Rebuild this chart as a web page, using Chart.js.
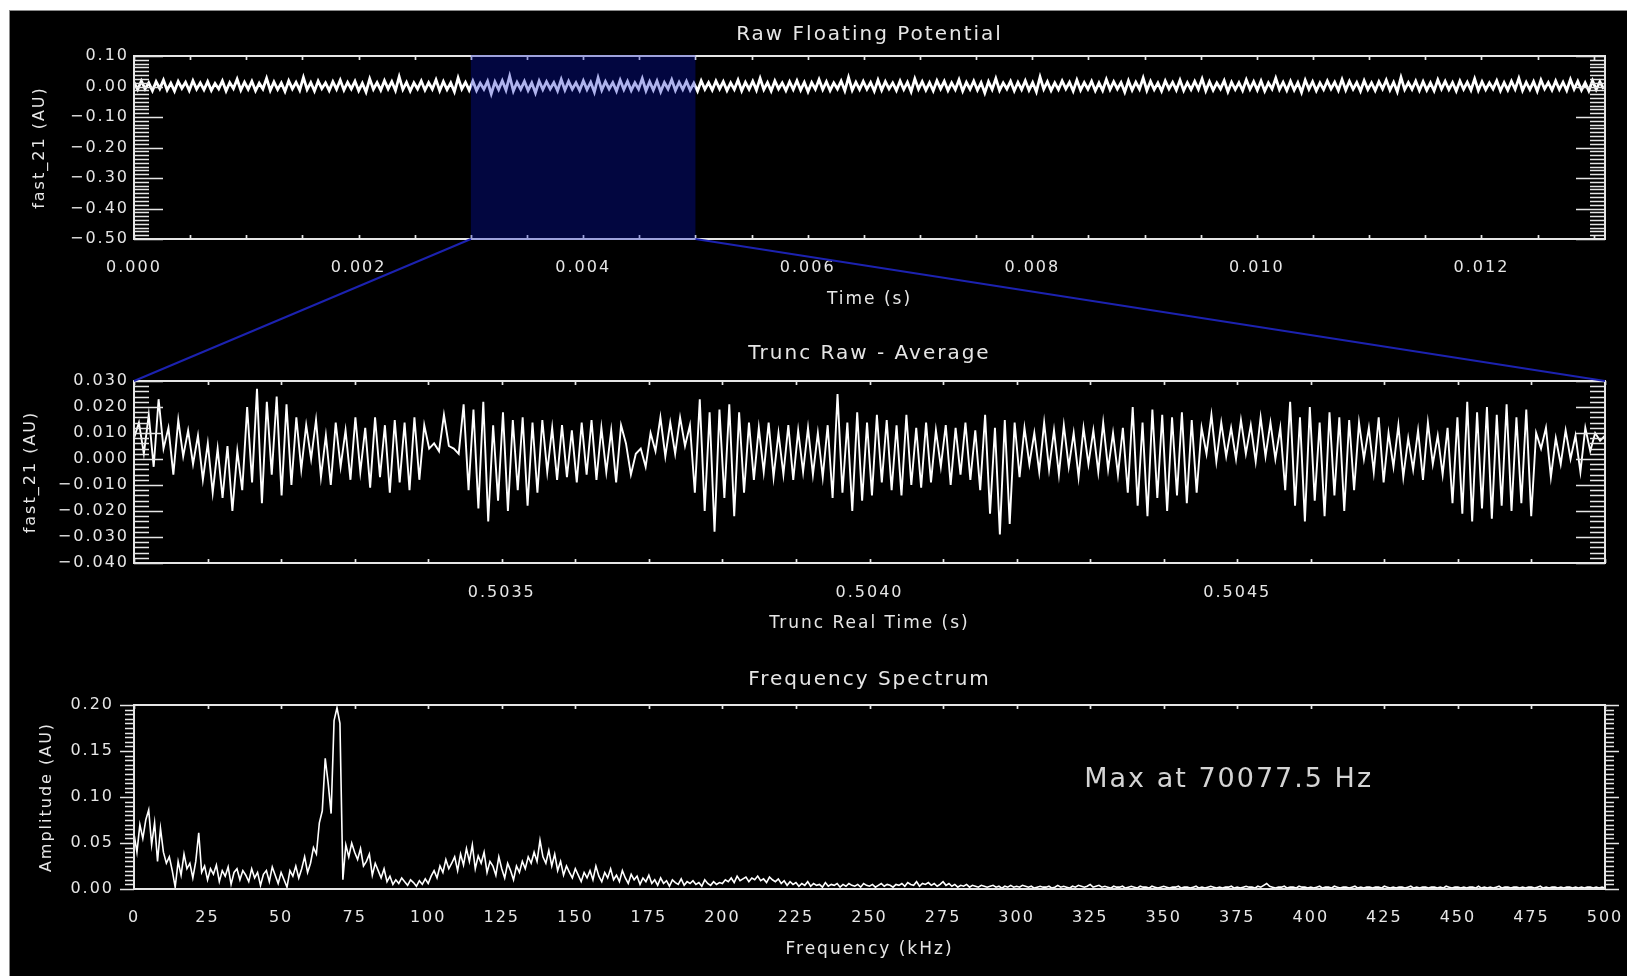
<!DOCTYPE html>
<html>
<head>
<meta charset="utf-8">
<title>Raw Floating Potential</title>
<script src="https://cdn.jsdelivr.net/npm/chart.js@4.4.1/dist/chart.umd.min.js"></script>
<style>
  body { margin: 0; background: #fff; }
  #wrap { position: relative; width: 1627px; height: 976px; overflow: hidden; }
  #bg { position: absolute; left: 9px; top: 10px; right: 0; bottom: 0; background: #000; border-top: 1px solid #8a8a8a; border-left: 1px solid #8a8a8a; }
  canvas { position: absolute; left: 0; top: 0; }
</style>
</head>
<body>
<div id="wrap">
  <div id="bg"></div>
  <canvas id="rawChart" width="1627" height="976"></canvas>
  <canvas id="truncChart" width="1627" height="976"></canvas>
  <canvas id="specChart" width="1627" height="976"></canvas>
</div>
<script>
// ===== Data =====

// fast_21 raw floating potential, 1e-3 AU, one sample every rawDt seconds
const rawDt = 3.28e-5;
const rawMilli = [
  14, -10, 18, -8, 12, -14, 16, -7, 21, -12, 11, -15, 17, -6, 14, -13, 19, -9, 12, -11,
  16, -13, 10, -8, 18, -15, 13, -7, 24, -12, 14, -9, 17, -14, 11, -8, 27, -13, 15, -10,
  12, -16, 19, -8, 14, -12, 30, -10, 13, -15, 18, -7, 12, -13, 16, -9, 21, -12, 14, -8,
  17, -14, 11, -18, 25, -9, 13, -12, 19, -8, 16, -13, 32, -10, 14, -15, 12, -8, 18, -12,
  13, -9, 22, -14, 16, -10, 12, -17, 28, -8, 14, -12, 18, -13, 11, -9, 17, -24, 15, -10,
  19, -12, 34, -15, 14, -9, 17, -13, 12, -21, 18, -10, 16, -8, 13, -14, 23, -12, 17, -9,
  12, -13, 19, -10, 14, -18, 29, -12, 16, -8, 13, -15, 21, -10, 17, -13, 12, -9, 26, -14,
  16, -12, 18, -17, 13, -8, 22, -13, 14, -10, 17, -12, 11, -15, 19, -9, 13, -12, 18, -8,
  16, -13, 12, -10, 21, -14, 14, -9, 17, -12, 27, -10, 13, -15, 18, -8, 12, -13, 16, -10,
  19, -12, 14, -17, 13, -9, 23, -10, 16, -13, 12, -8, 18, -14, 30, -12, 14, -10, 17, -9,
  13, -15, 21, -12, 16, -8, 12, -13, 18, -10, 14, -17, 25, -9, 16, -12, 13, -14, 19, -8,
  17, -13, 12, -10, 22, -15, 14, -9, 18, -12, 13, -21, 16, -10, 26, -13, 12, -8, 17, -14,
  14, -10, 19, -12, 13, -17, 31, -9, 16, -13, 12, -10, 18, -8, 14, -15, 21, -12, 13, -9,
  17, -14, 12, -13, 23, -10, 16, -8, 13, -18, 19, -12, 14, -9, 28, -13, 17, -10, 12, -15,
  18, -8, 14, -12, 21, -13, 13, -10, 17, -9, 25, -14, 16, -12, 12, -8, 19, -17, 14, -10,
  13, -13, 22, -9, 16, -12, 18, -15, 12, -8, 27, -10, 14, -13, 17, -12, 13, -19, 21, -9,
  16, -14, 12, -10, 18, -8, 14, -13, 23, -12, 17, -9, 13, -15, 19, -10, 12, -13, 16, -8,
  21, -12, 14, -17, 30, -10, 13, -9, 18, -13, 16, -12, 12, -14, 22, -8, 17, -10, 13, -15,
  18, -9, 14, -12, 25, -13, 16, -10, 12, -8, 19, -14, 13, -12, 17, -9, 27, -13, 14, -10,
  16, -15, 21, -8, 13, -12, 18, -10, 14, -13, 23, -9, 17, -12, 12, -14, 19, -10, 16, -8
];
const rawXMax = 0.0131;
const rawXTicks = [0, 0.002, 0.004, 0.006, 0.008, 0.010, 0.012];
const rawYTicks = [0.1, 0, -0.1, -0.2, -0.3, -0.4, -0.5];
const zoomWindow = [0.003, 0.005];

// truncated window minus its average, 1e-3 AU
const truncT0 = 0.503;
const truncT1 = 0.505;
const truncMilli = [
  8, 14, 2, 17, -3, 23, 4, 12, -6, 15,
  1, 11, -2, 9, -8, 6, -13, 4, -15, 5,
  -20, 3, -12, 20, -9, 27, -17, 22, -6, 24,
  -14, 21, -10, 16, -4, 13, 0, 15, -7, 9,
  -10, 14, -3, 11, -8, 16, -5, 12, -11, 16,
  -7, 13, -13, 15, -9, 14, -12, 16, -8, 13,
  4, 6, 3, 17, 5, 4, 2, 21, -12, 19,
  -19, 22, -24, 13, -16, 18, -20, 15, -12, 16,
  -18, 14, -13, 15, -5, 12, -8, 13, -7, 11,
  -9, 14, -6, 15, -8, 12, -5, 11, -9, 13,
  6, -6, 2, 4, -3, 10, 3, 16, 1, 14,
  2, 16, 5, 13, -13, 23, -20, 18, -28, 19,
  -15, 21, -22, 18, -13, 14, -8, 12, -5, 14,
  -7, 10, -6, 13, -8, 11, -5, 12, -6, 10,
  -7, 13, -15, 25, -13, 14, -20, 18, -16, 14,
  -14, 17, -9, 15, -12, 13, -14, 17, -10, 12,
  -11, 14, -9, 11, -3, 13, -10, 12, -6, 14,
  -8, 11, -12, 17, -21, 12, -29, 15, -25, 14,
  -7, 12, -2, 10, -5, 14, -4, 11, -6, 13,
  -3, 10, -7, 12, -2, 11, -5, 14, -4, 10,
  -6, 12, -13, 20, -18, 14, -22, 19, -15, 17,
  -20, 16, -14, 18, -17, 15, -13, 12, 2, 17,
  -1, 14, 1, 12, 0, 15, 2, 13, -1, 16,
  1, 14, 0, 12, -12, 22, -18, 16, -24, 20,
  -16, 14, -22, 18, -14, 16, -20, 15, -12, 14,
  0, 12, -5, 16, -9, 10, -3, 13, -7, 8,
  -4, 11, -8, 14, -2, 9, -6, 12, -17, 16,
  -21, 22, -24, 18, -19, 20, -23, 17, -18, 21,
  -20, 16, -17, 19, -22, 10, 4, 12, -7, 8,
  -2, 11, 0, 9, -5, 12, 3, 10, 7, 9
];
const truncXTicks = [0.5035, 0.5040, 0.5045];
const truncYTicks = [0.03, 0.02, 0.01, 0, -0.01, -0.02, -0.03, -0.04];

// amplitude spectrum, one value per kHz from 0 to 500 kHz, 1e-3 AU
const specMilli = [
  60, 40, 70, 55, 75, 86, 48, 72, 30, 66,
  40, 28, 35, 20, 2, 30, 15, 38, 22, 28,
  12, 30, 61, 18, 25, 10, 22, 16, 26, 8,
  20, 14, 24, 5, 18, 22, 10, 20, 15, 8,
  22, 12, 18, 4, 16, 20, 8, 24, 15, 6,
  18, 10, 2, 20, 14, 25, 12, 22, 35, 18,
  28, 45, 38, 72, 85, 142, 115, 82, 183, 197,
  180, 10, 48, 35, 50, 40, 32, 44, 25, 30,
  38, 15, 28, 20, 12, 22, 8, 14, 5, 10,
  6, 12, 8, 4, 10, 7, 3, 9, 5, 11,
  6, 14, 20, 12, 25, 18, 32, 22, 28, 35,
  20, 38, 26, 44, 30, 48, 22, 36, 28, 40,
  18, 30, 25, 15, 35, 22, 12, 28, 20, 10,
  25, 18, 30, 22, 35, 28, 40, 30, 53, 35,
  28, 42, 25, 38, 20, 30, 15, 25, 18, 12,
  22, 15, 8, 18, 12, 20, 10, 25, 14, 8,
  18, 12, 22, 10, 15, 8, 20, 12, 6, 16,
  10, 14, 5, 12, 8, 15, 6, 10, 4, 12,
  6, 9, 3, 10, 7, 5, 11, 4, 8, 6,
  9, 5, 7, 3, 10, 6, 4, 8, 5, 7,
  6, 10, 8, 12, 7, 14, 9, 11, 13, 8,
  12, 10, 14, 9, 11, 7, 13, 10, 8, 11,
  6, 9, 4, 8, 5, 7, 3, 6, 4, 8,
  3, 6, 4, 5, 2, 7, 3, 5, 4, 6,
  2, 5, 3, 6, 4, 3, 5, 2, 6, 4,
  3, 5, 2, 4, 6, 3, 5, 4, 2, 5,
  4, 6, 3, 7, 5, 4, 8, 3, 6, 5,
  7, 4, 6, 3, 5, 8, 4, 6, 3, 5,
  2, 4, 3, 5, 2, 4, 3, 2, 4, 3,
  2, 3, 4, 2, 3, 1, 3, 2, 4, 2,
  3, 2, 4, 3, 2, 3, 1, 2, 3, 2,
  2, 3, 1, 2, 4, 2, 3, 2, 1, 3,
  2, 4, 3, 2, 3, 5, 2, 3, 4, 2,
  3, 2, 1, 3, 2, 2, 3, 1, 2, 3,
  2, 1, 3, 2, 2, 1, 3, 2, 1, 2,
  3, 2, 1, 2, 2, 3, 1, 2, 2, 1,
  2, 3, 1, 2, 1, 2, 3, 2, 1, 2,
  1, 2, 2, 3, 1, 2, 1, 2, 3, 2,
  2, 1, 3, 2, 4, 6, 3, 2, 1, 2,
  2, 3, 1, 2, 2, 1, 3, 2, 2, 1,
  2, 1, 2, 3, 1, 2, 2, 1, 3, 2,
  1, 2, 2, 1, 2, 3, 1, 2, 1, 2,
  2, 1, 2, 2, 1, 3, 2, 1, 2, 1,
  2, 2, 1, 2, 3, 1, 2, 1, 2, 2,
  1, 2, 2, 1, 2, 1, 3, 2, 1, 2,
  2, 1, 2, 1, 2, 2, 1, 3, 1, 2,
  1, 2, 1, 2, 3, 1, 2, 2, 1, 2,
  2, 1, 2, 1, 2, 2, 1, 2, 3, 1,
  2, 1, 2, 2, 1, 2, 1, 2, 2, 1,
  2, 1, 2, 1, 2, 2, 1, 2, 1, 2,
  1
];
const specXTicks = [0, 25, 50, 75, 100, 125, 150, 175, 200, 225, 250, 275, 300, 325, 350, 375, 400, 425, 450, 475, 500];
const specYTicks = [0, 0.05, 0.1, 0.15, 0.2];
const maxNote = 'Max at 70077.5 Hz';
const maxNoteAt = [323, 0.118];

// ===== Look =====
const W = 1627, H = 976;
const X_AXIS_H = 40;
const ink = '#e6e6e6';

Chart.defaults.font.family = "'DejaVu Sans', sans-serif";
Chart.defaults.font.size = 16;
Chart.defaults.color = ink;

// the IDL text is drawn wide, so space every glyph a little
Chart.register({
    id: 'spacing',
    beforeUpdate: (c) => { c.ctx.letterSpacing = '2px'; },
    beforeDraw: (c) => { c.ctx.letterSpacing = '2px'; },
});

const fmt = (dec) => (v) => Number(v).toFixed(dec).replace('-', '\u2212');

let rawChart = null;

// frame, IDL style tick ladders, highlight band, titles
const decor = {
    id: 'decor',
    afterDatasetsDraw(chart, args, o) {
        const { ctx, chartArea: a, scales: { x, y } } = chart;
        ctx.save();
        ctx.strokeStyle = ink;
        ctx.lineWidth = 1.7;
        ctx.beginPath();
        const n = Math.round((y.max - y.min) / o.yMinor);
        const dir = o.yOut ? -1 : 1;
        for (let i = 0; i <= n; i++) {
            const v = y.min + i * o.yMinor;
            const major = Math.abs(v / o.yMajor - Math.round(v / o.yMajor)) < 1e-6;
            const len = major ? o.yMajLen : o.yMinLen;
            const py = Math.round(y.getPixelForValue(v)) + 0.5;
            ctx.moveTo(a.left, py);
            ctx.lineTo(a.left + dir * len, py);
            ctx.moveTo(a.right, py);
            ctx.lineTo(a.right - dir * len, py);
        }
        const m = Math.round((x.max - x.min) / o.xMinor);
        for (let i = 0; i <= m; i++) {
            const px = Math.round(x.getPixelForValue(x.min + i * o.xMinor)) + 0.5;
            ctx.moveTo(px, a.top);
            ctx.lineTo(px, a.top + o.xLen);
            if (o.xBottom) {
                ctx.moveTo(px, a.bottom);
                ctx.lineTo(px, a.bottom - o.xLen);
            }
        }
        ctx.stroke();
        ctx.lineWidth = 2;
        ctx.strokeRect(a.left, a.top, a.right - a.left, a.bottom - a.top);

        if (o.hlFrom !== undefined) {
            const x1 = x.getPixelForValue(o.hlFrom);
            const x2 = x.getPixelForValue(o.hlTo);
            ctx.fillStyle = 'rgba(6, 19, 200, 0.32)';
            ctx.fillRect(x1, a.top - 1, x2 - x1, a.bottom - a.top + 2);
        }

        if (o.link && rawChart) {
            const src = rawChart.scales.x;
            const sb = rawChart.chartArea.bottom;
            ctx.strokeStyle = '#1c22b0';
            ctx.lineWidth = 2;
            ctx.beginPath();
            ctx.moveTo(src.getPixelForValue(zoomWindow[0]), sb);
            ctx.lineTo(a.left, a.top);
            ctx.moveTo(src.getPixelForValue(zoomWindow[1]), sb);
            ctx.lineTo(a.right, a.top);
            ctx.stroke();
        }
        ctx.restore();
    },
    afterDraw(chart, args, o) {
        const { ctx, chartArea: a, scales: { x, y } } = chart;
        const cx = (a.left + a.right) / 2;
        ctx.save();
        ctx.letterSpacing = '2px';
        ctx.fillStyle = ink;
        ctx.textAlign = 'center';
        ctx.textBaseline = 'middle';
        ctx.font = "20px 'DejaVu Sans'";
        ctx.fillText(o.title, cx, a.top + o.titleDy);
        ctx.font = "17px 'DejaVu Sans'";
        ctx.fillText(o.xTitle, cx, a.bottom + o.xTitleDy);
        if (o.note) {
            ctx.font = "27px 'DejaVu Sans'";
            ctx.fillStyle = '#d4d4d4';
            ctx.textAlign = 'left';
            ctx.fillText(o.note, x.getPixelForValue(o.noteX), y.getPixelForValue(o.noteY));
            ctx.fillStyle = ink;
            ctx.textAlign = 'center';
        }
        ctx.font = "16px 'DejaVu Sans'";
        ctx.translate(a.left + o.yTitleDx, (a.top + a.bottom) / 2);
        ctx.rotate(-Math.PI / 2);
        ctx.fillText(o.yTitle, 0, 0);
        ctx.restore();
    }
};

function makePanel(id, points, box, axes, decorOpts) {
    return new Chart(document.getElementById(id), {
        type: 'line',
        data: {
            datasets: [{
                data: points,
                borderColor: '#ffffff',
                borderWidth: axes.lineWidth,
                borderJoinStyle: 'miter',
                pointRadius: 0,
                tension: 0,
                fill: false,
            }]
        },
        options: {
            responsive: false,
            animation: false,
            devicePixelRatio: 1,
            events: [],
            layout: {
                padding: { left: 0, top: box.top, right: W - box.right, bottom: H - box.bottom - X_AXIS_H }
            },
            plugins: {
                legend: { display: false },
                tooltip: { enabled: false },
                decor: decorOpts,
            },
            scales: {
                x: {
                    type: 'linear',
                    min: axes.xMin,
                    max: axes.xMax,
                    grid: { display: false, drawTicks: false },
                    border: { display: false },
                    afterBuildTicks: (s) => { s.ticks = axes.xTicks.map(v => ({ value: v })); },
                    afterFit: (s) => { s.height = X_AXIS_H; s.paddingLeft = 0; s.paddingRight = 0; },
                    ticks: { callback: fmt(axes.xDec), padding: axes.xPad, maxRotation: 0, autoSkip: false },
                },
                y: {
                    type: 'linear',
                    min: axes.yMin,
                    max: axes.yMax,
                    grid: { display: false, drawTicks: false },
                    border: { display: false },
                    afterBuildTicks: (s) => { s.ticks = axes.yTicks.map(v => ({ value: v })); },
                    afterFit: (s) => { s.width = box.left; s.paddingTop = 0; s.paddingBottom = 0; },
                    ticks: { callback: fmt(axes.yDec), padding: axes.yPad, autoSkip: false },
                }
            }
        },
        plugins: [decor]
    });
}

// ===== Panels =====
const truncDt = (truncT1 - truncT0) / (truncMilli.length - 1);

rawChart = makePanel('rawChart',
    rawMilli.map((v, i) => ({ x: i * rawDt, y: v / 1000 })),
    { left: 134, right: 1605, top: 56, bottom: 239 },
    { xMin: 0, xMax: rawXMax, xTicks: rawXTicks, xDec: 3, xPad: 19,
      yMin: -0.5, yMax: 0.1, yTicks: rawYTicks, yDec: 2, yPad: 5, lineWidth: 2.8 },
    { title: 'Raw Floating Potential', titleDy: -21, xTitle: 'Time (s)', xTitleDy: 61,
      yTitle: 'fast_21 (AU)', yTitleDx: -94,
      yMinor: 0.0125, yMajor: 0.1, yMajLen: 29, yMinLen: 15, yOut: false,
      xMinor: 0.0005, xLen: 4, xBottom: true,
      hlFrom: zoomWindow[0], hlTo: zoomWindow[1] }
);

makePanel('truncChart',
    truncMilli.map((v, i) => ({ x: truncT0 + i * truncDt, y: v / 1000 })),
    { left: 134, right: 1605, top: 381, bottom: 563 },
    { xMin: truncT0, xMax: truncT1, xTicks: truncXTicks, xDec: 4, xPad: 20,
      yMin: -0.04, yMax: 0.03, yTicks: truncYTicks, yDec: 3, yPad: 5, lineWidth: 1.9 },
    { title: 'Trunc Raw - Average', titleDy: -27, xTitle: 'Trunc Real Time (s)', xTitleDy: 61,
      yTitle: 'fast_21 (AU)', yTitleDx: -103,
      yMinor: 0.002, yMajor: 0.01, yMajLen: 29, yMinLen: 15, yOut: false,
      xMinor: 0.0001, xLen: 4, xBottom: true, link: true }
);

makePanel('specChart',
    specMilli.map((v, i) => ({ x: i, y: v / 1000 })),
    { left: 134, right: 1605, top: 705, bottom: 889 },
    { xMin: 0, xMax: 500, xTicks: specXTicks, xDec: 0, xPad: 19,
      yMin: 0, yMax: 0.2, yTicks: specYTicks, yDec: 2, yPad: 20, lineWidth: 1.6 },
    { title: 'Frequency Spectrum', titleDy: -25, xTitle: 'Frequency (kHz)', xTitleDy: 61,
      yTitle: 'Amplitude (AU)', yTitleDx: -87,
      yMinor: 0.005, yMajor: 0.05, yMajLen: 14, yMinLen: 9, yOut: true,
      xMinor: 25, xLen: 4, xBottom: false,
      note: maxNote, noteX: maxNoteAt[0], noteY: maxNoteAt[1] }
);
</script>
</body>
</html>
